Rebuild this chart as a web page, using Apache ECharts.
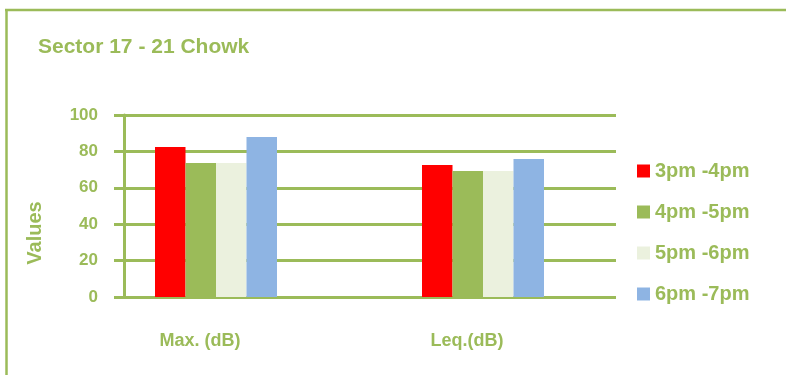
<!DOCTYPE html>
<html>
<head>
<meta charset="utf-8">
<script src="https://cdn.jsdelivr.net/npm/echarts@6/dist/echarts.min.js"></script>
<style>
  html, body { margin: 0; padding: 0; background: #fff; }
  #chart { width: 786px; height: 375px; }
</style>
</head>
<body>
<div id="chart"></div>
<script>
const categories = ['Max. (dB)', 'Leq.(dB)']
const seriesNames = ['3pm -4pm', '4pm -5pm', '5pm -6pm', '6pm -7pm']
const seriesColors = ['#ff0000', '#9bbb59', '#ebf1de', '#8eb4e3']
const values3to4 = [82.4, 72.5]
const values4to5 = [73.6, 69.2]
const values5to6 = [73.6, 69.2]
const values6to7 = [87.9, 75.8]
const seriesValues = [values3to4, values4to5, values5to6, values6to7]

const olive = '#9bbb59'
const font = '"Liberation Sans", Arial, sans-serif'

const chart = echarts.init(document.getElementById('chart'), null, { renderer: 'canvas' })

// the empty first series only pushes each group a little to the right of its label
const spacer = {
  type: 'bar',
  xAxisIndex: 1,
  yAxisIndex: 1,
  data: categories.map(() => 0),
  barWidth: 32,
  barGap: '0%',
  silent: true,
  itemStyle: { color: 'rgba(0,0,0,0)' }
}

const bars = seriesNames.map((name, i) => ({
  name,
  type: 'bar',
  xAxisIndex: 1,
  yAxisIndex: 1,
  data: seriesValues[i],
  barWidth: 30.5,
  barGap: '0%',
  itemStyle: { color: seriesColors[i] }
}))

chart.setOption({
  backgroundColor: '#fff',
  animation: false,
  title: {
    text: 'Sector 17 - 21 Chowk',
    left: 38,
    top: 37,
    padding: 0,
    textStyle: { color: olive, fontSize: 21, fontWeight: 'bold', fontFamily: font }
  },
  legend: {
    data: seriesNames,
    orient: 'vertical',
    left: 637,
    top: 161,
    padding: 0,
    itemWidth: 13,
    itemHeight: 13,
    itemGap: 21,
    icon: 'rect',
    textStyle: { color: olive, fontSize: 20, fontWeight: 'bold', fontFamily: font }
  },
  grid: [
    { left: 124, right: 170, top: 115, bottom: 78 },
    { left: 66.5, right: 185.5, top: 115, bottom: 78 }
  ],
  xAxis: [
    {
      gridIndex: 0,
      type: 'category',
      data: categories,
      axisLine: { show: false },
      axisTick: { show: false },
      axisLabel: { show: false }
    },
    {
      gridIndex: 1,
      type: 'category',
      data: categories,
      axisLine: { show: false },
      axisTick: { show: false },
      axisLabel: {
        margin: 35,
        color: olive,
        fontSize: 18,
        fontWeight: 'bold',
        fontFamily: font
      }
    }
  ],
  yAxis: [
    {
      gridIndex: 0,
      type: 'value',
      min: 0,
      max: 100,
      interval: 20,
      axisLine: { show: true, lineStyle: { color: olive, width: 3 } },
      axisTick: { show: true, length: 10, lineStyle: { color: olive, width: 3 } },
      axisLabel: {
        margin: 26,
        color: olive,
        fontSize: 17,
        fontWeight: 'bold',
        fontFamily: font
      },
      splitLine: { lineStyle: { color: olive, width: 3 } }
    },
    {
      gridIndex: 1,
      type: 'value',
      min: 0,
      max: 100,
      interval: 20,
      show: false
    }
  ],
  graphic: [
    {
      type: 'line',
      shape: { x1: 5, y1: 10, x2: 786, y2: 10 },
      style: { stroke: olive, lineWidth: 2.5 }
    },
    {
      type: 'line',
      shape: { x1: 6.5, y1: 9, x2: 6.5, y2: 375 },
      style: { stroke: olive, lineWidth: 2.5 }
    },
    {
      type: 'text',
      x: 35,
      y: 233,
      rotation: Math.PI / 2,
      style: {
        text: 'Values',
        fill: olive,
        font: 'bold 20px ' + font,
        textAlign: 'center',
        textVerticalAlign: 'middle'
      }
    }
  ],
  series: [spacer, ...bars]
})
</script>
</body>
</html>
